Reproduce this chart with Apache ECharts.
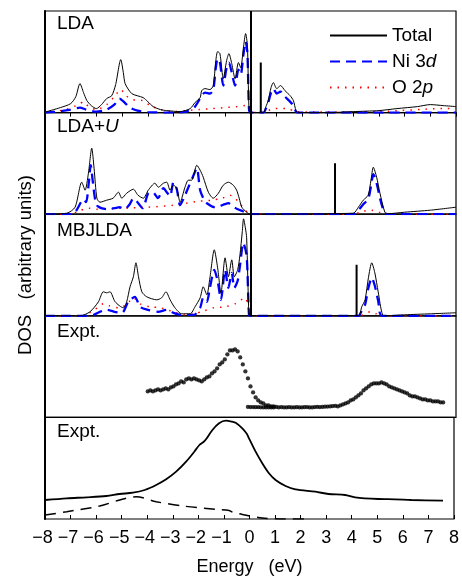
<!DOCTYPE html>
<html>
<head>
<meta charset="utf-8">
<script src="https://cdn.jsdelivr.net/npm/echarts@6/dist/echarts.min.js"></script>
<style>html,body{margin:0;padding:0;background:#fff;}#chart{width:462px;height:578px;}</style>
</head>
<body>
<div id="chart"></div>
<script>
// ---------- data (energy in eV, DOS in arbitrary units) ----------
const energyTicks = [-8,-7,-6,-5,-4,-3,-2,-1,0,1,2,3,4,5,6,7,8];
const panelNames = ['LDA', 'LDA+U', 'MBJLDA', 'Expt.', 'Expt.'];
const legendNames = ['Total', 'Ni 3d', 'O 2p'];

// Panel 1: LDA
const ldaTotal = [[-8,0.5],[-7.4,5],[-7.0,9],[-6.8,16],[-6.64,29],[-6.5,20],[-6.37,12],[-6.2,7],[-6.0,4],[-5.8,8],[-5.6,14],[-5.4,17],[-5.25,28],[-5.05,53],[-4.95,40],[-4.88,29],[-4.62,19],[-4.18,15],[-4.0,11],[-3.79,6],[-3.5,3],[-3.26,2],[-2.74,1],[-2.35,4],[-2.16,10],[-1.96,15],[-1.9,22],[-1.77,24],[-1.58,23],[-1.45,27],[-1.35,52],[-1.28,61],[-1.19,59],[-1.06,34],[-0.93,52],[-0.84,59],[-0.73,49],[-0.6,34],[-0.47,50],[-0.38,45],[-0.28,64],[-0.19,79],[-0.12,67],[-0.06,5],[0,0],[0.5,0],[0.6,6],[0.69,12],[0.8,25],[0.89,30],[1.02,24],[1.17,27],[1.34,22],[1.54,17],[1.67,12],[1.77,2],[1.85,0],[3,0],[4,1],[5,2],[5.7,4],[6.5,6],[7.0,8],[7.5,7],[8,6]];
const ldaNi3d = [[-8,0],[-7.5,1],[-7,3],[-6.64,5],[-6.4,3],[-6.0,1],[-5.6,3],[-5.3,8],[-5.1,14],[-4.9,10],[-4.7,5],[-4.4,2],[-4,0.5],[-3,0],[-2.5,1],[-2.16,6],[-1.9,17],[-1.77,20],[-1.58,19],[-1.45,23],[-1.35,45],[-1.28,54],[-1.19,50],[-1.06,27],[-0.93,45],[-0.84,50],[-0.73,40],[-0.6,27],[-0.47,43],[-0.38,38],[-0.28,57],[-0.19,71],[-0.12,59],[-0.06,4],[0,0],[0.5,0],[0.6,4],[0.69,10],[0.8,20],[0.89,24],[1.02,19],[1.17,21],[1.34,16],[1.54,11],[1.67,7],[1.77,1],[1.85,0],[8,0]];
const ldaO2p = [[-8,0],[-7.2,3],[-6.7,8],[-6.5,11],[-6.3,6],[-6.0,3],[-5.6,8],[-5.3,16],[-5.05,23],[-4.85,17],[-4.6,13],[-4.2,12],[-3.9,7],[-3.5,3],[-3,1],[-2.5,2],[-2,3],[-1.5,4],[-1,5],[-0.5,6],[-0.2,7],[-0.05,4],[0,0],[0.5,0],[0.9,4],[1.4,4],[1.8,1],[2.5,0.5],[5,1],[7.5,4],[8,4]];
const ldaSpike = [0.4, 50];

// Panel 2: LDA+U
const ldauTotal = [[-8,0],[-7.15,1],[-6.83,7],[-6.57,32],[-6.44,24],[-6.31,41],[-6.18,66],[-6.09,46],[-5.98,16],[-5.86,12],[-5.6,14],[-5.35,16],[-5.14,22],[-5.01,16],[-4.82,21],[-4.56,25],[-4.38,19],[-4.17,16],[-3.98,24],[-3.72,31],[-3.59,27],[-3.39,31],[-3.26,32],[-3.13,24],[-3.0,29],[-2.87,26],[-2.74,12],[-2.55,27],[-2.42,34],[-2.29,34],[-2.09,49],[-1.96,44],[-1.84,37],[-1.64,22],[-1.45,16],[-1.25,21],[-1.06,29],[-0.86,32],[-0.67,29],[-0.54,24],[-0.44,16],[-0.34,7],[-0.15,2],[0,0],[4.0,1],[4.2,7],[4.39,14],[4.58,19],[4.69,34],[4.78,47],[4.91,37],[5.04,21],[5.23,2],[5.35,0.5],[6,2],[7,4],[8,7]];
const ldauNi3d = [[-8,0],[-7,0],[-6.8,3],[-6.6,12],[-6.5,15],[-6.4,12],[-6.3,30],[-6.22,49],[-6.15,35],[-6.05,15],[-5.95,8],[-5.6,5],[-5.3,6],[-5.1,7],[-4.9,5],[-4.7,10],[-4.56,16],[-4.4,12],[-4.2,6],[-3.98,21],[-3.8,22],[-3.6,16],[-3.39,26],[-3.26,22],[-3.13,18],[-3.0,32],[-2.87,25],[-2.74,9],[-2.6,16],[-2.4,28],[-2.25,37],[-2.09,46],[-1.96,24],[-1.8,14],[-1.7,11],[-1.4,7],[-1.2,8],[-1.0,10],[-0.86,11],[-0.7,8],[-0.5,5],[-0.3,3],[-0.1,1],[0,0],[4.0,0],[4.2,4],[4.39,10],[4.58,15],[4.69,28],[4.78,40],[4.91,31],[5.04,16],[5.2,2],[5.3,0],[8,0]];
const ldauO2p = [[-8,0],[-7,0],[-6.7,3],[-6.3,6],[-6,5],[-5,6],[-4,7],[-3,9],[-2.5,11],[-2,13],[-1.5,14],[-1.1,16],[-0.8,19],[-0.6,16],[-0.4,10],[-0.2,4],[0,0],[4,0],[4.4,3],[4.7,4],[5.0,2],[5.3,0],[8,0]];
const ldauSpike = [3.29, 51];

// Panel 3: MBJLDA
const mbjTotal = [[-8,0],[-6.63,0],[-6.25,4],[-5.92,14],[-5.73,24],[-5.6,23],[-5.47,24],[-5.27,14],[-4.95,8],[-4.82,14],[-4.69,29],[-4.56,39],[-4.46,53],[-4.36,39],[-4.23,24],[-4.04,19],[-3.65,16],[-3.46,18],[-3.29,24],[-3.13,16],[-2.94,8],[-2.68,2],[-2.35,2],[-2.16,9],[-1.96,18],[-1.84,29],[-1.7,21],[-1.58,38],[-1.41,66],[-1.28,48],[-1.15,23],[-0.99,58],[-0.86,39],[-0.73,56],[-0.63,39],[-0.5,46],[-0.41,61],[-0.32,84],[-0.27,97],[-0.2,88],[-0.15,78],[-0.06,1],[0,0],[4.2,0],[4.33,9],[4.46,16],[4.59,38],[4.72,53],[4.84,43],[4.97,24],[5.14,1],[5.3,0],[6,1],[7,2],[8,3]];
const mbjNi3d = [[-8,0],[-6.5,0],[-6.1,1],[-5.86,4],[-5.6,6],[-5.3,4],[-5.0,3],[-4.76,14],[-4.5,19],[-4.3,9],[-4.0,6],[-3.6,4],[-3.26,6],[-3.0,3],[-2.7,1],[-2.2,1],[-1.96,8],[-1.84,18],[-1.7,14],[-1.58,28],[-1.41,46],[-1.28,35],[-1.15,16],[-0.99,46],[-0.86,28],[-0.73,43],[-0.63,28],[-0.5,35],[-0.41,50],[-0.28,73],[-0.15,60],[-0.06,1],[0,0],[4.2,0],[4.33,5],[4.46,11],[4.59,28],[4.72,38],[4.84,30],[4.97,15],[5.12,0],[8,0]];
const mbjO2p = [[-8,0],[-6.5,0],[-6.2,4],[-5.9,9],[-5.73,12],[-5.5,10],[-5.1,8],[-4.8,12],[-4.56,18],[-4.3,12],[-3.9,9],[-3.5,8],[-3.0,4],[-2.6,1],[-2.2,2],[-1.8,5],[-1.45,8],[-1.0,9],[-0.6,12],[-0.21,18],[-0.1,10],[0,0],[4.2,0],[4.5,2],[4.65,4],[4.9,2],[5.2,0],[8,0]];
const mbjSpike = [4.13, 51];

// Panel 4: experiment (photoemission + inverse photoemission), dots
const exptPes = [[-4.0,26],[-3.9,27],[-3.8,26],[-3.7,27],[-3.6,28],[-3.5,27],[-3.4,28],[-3.3,29],[-3.2,28],[-3.1,30],[-3.0,31],[-2.9,33],[-2.8,34],[-2.7,36],[-2.6,35],[-2.5,38],[-2.4,39],[-2.3,38],[-2.2,39],[-2.1,38],[-2.0,37],[-1.9,36],[-1.8,38],[-1.7,40],[-1.6,41],[-1.5,44],[-1.4,46],[-1.3,49],[-1.2,53],[-1.1,55],[-1.0,58],[-0.9,63],[-0.8,67],[-0.7,67],[-0.6,68],[-0.5,66],[-0.4,60],[-0.3,53],[-0.2,46],[-0.1,39],[0.0,31],[0.1,25],[0.2,20],[0.3,17],[0.4,15],[0.5,14],[0.6,12],[0.7,12],[0.8,11],[0.9,11],[1.0,10.5],[1.1,10],[1.2,10.3],[1.3,10],[1.4,10],[1.5,10.2],[1.6,10],[1.7,10],[1.8,10.2],[1.9,10],[2.0,10],[2.1,10.2],[2.2,10.3],[2.3,10],[2.4,10],[2.5,10.3],[2.6,10.5],[2.7,10.3],[2.8,10.5],[2.9,10.7],[3.0,10.8],[3.1,11],[3.2,11.3],[3.3,11.6],[3.4,11],[3.5,12],[3.6,13],[3.7,14],[3.8,15],[3.9,17],[4.0,18],[4.1,20],[4.2,22],[4.3,24],[4.4,27],[4.5,29],[4.6,31],[4.7,33],[4.8,34],[4.9,34],[5.0,34],[5.1,35],[5.2,34],[5.3,33],[5.4,31],[5.5,30],[5.6,29],[5.7,28],[5.8,27],[5.9,26],[6.0,25],[6.1,24],[6.2,22],[6.3,21],[6.4,21],[6.5,20],[6.6,19],[6.7,18],[6.8,18],[6.9,17],[7.0,17],[7.1,16],[7.2,16],[7.3,16],[7.4,15],[7.5,15]];
const exptIpesBase = [[-0.1,10.5],[0.0,10.3],[0.1,10.3],[0.2,10.2],[0.3,10.2],[0.4,10.1],[0.5,10],[0.6,10],[0.7,10],[0.8,10],[0.9,10]];

// Panel 5: experiment spectrum (solid) and component (dashed)
const exptSpectrum = [[-8,19],[-7.15,20.7],[-6.37,21.7],[-5.6,23],[-5.08,25],[-4.56,26.3],[-4.1,29],[-3.65,34],[-3.26,39.7],[-2.87,47.3],[-2.48,57.3],[-2.16,67.3],[-1.96,74],[-1.8,77],[-1.7,79.7],[-1.45,89],[-1.19,95.7],[-0.93,98.3],[-0.67,97.3],[-0.54,96.3],[-0.28,90.7],[-0.1,85],[-0.02,80.7],[0.24,67.3],[0.5,55.7],[0.76,45.7],[1.02,39],[1.41,33],[1.8,29.7],[2.58,27.3],[3.09,25],[3.74,24],[4.13,21.7],[5.04,20],[5.69,19.7],[6.33,19],[7.57,18.3]];
const exptComponent = [[-8,4],[-7.15,7.3],[-5.86,13],[-5.08,19],[-4.43,22.3],[-3.65,17.3],[-2.61,13],[-1.32,9.7],[-0.8,8.5],[-0.67,7],[-0.28,4.5],[0.5,1],[1.4,0],[2.2,0]];

// ---------- chart ----------
const FONT = 'Liberation Sans, Arial, Helvetica, sans-serif';
const N = 5, TOP = 11, H = 101.6, YMAX = 101.6;
const BLUE = '#0000ff', RED = '#ff0000';

const grids = [], xAxes = [], yAxes = [], titles = [];
for (let i = 0; i < N; i++) {
  grids.push({left: 45, right: 6, top: TOP + H * i, height: H, show: true,
    borderColor: '#000', borderWidth: 1.2, backgroundColor: 'transparent'});
  const isTop = i === 0, isBottom = i === N - 1;
  xAxes.push({
    gridIndex: i, type: 'value',
    min: energyTicks[0], max: energyTicks[energyTicks.length - 1], interval: 1,
    position: isTop ? 'top' : 'bottom',
    show: isTop || isBottom,
    axisLine: {show: false},
    axisTick: {show: true, inside: true, length: 4, lineStyle: {color: '#000', width: 1}},
    splitLine: {show: false},
    axisLabel: {
      show: isBottom, showMinLabel: true, showMaxLabel: true,
      margin: 10, color: '#000', fontSize: 18, fontFamily: FONT,
      formatter: v => v < 0 ? '{t|\u2212' + (-v) + '}{p|}' : '{t|' + v + '}',
      rich: {t: {fontSize: 18, fontFamily: FONT, color: '#000'}, p: {width: 5, fontSize: 18}}
    },
    name: isBottom ? 'Energy   (eV)' : '',
    nameLocation: 'middle', nameGap: 39,
    nameTextStyle: {fontSize: 18, fontFamily: FONT, color: '#000'}
  });
  yAxes.push({gridIndex: i, type: 'value', min: 0, max: YMAX,
    axisLine: {show: true, onZero: false, lineStyle: {color: '#000', width: 2}},
    axisTick: {show: false}, axisLabel: {show: false}, splitLine: {show: false}});
}
const titleTops = [14, 117, 221, 322, 422];
panelNames.forEach((n, i) => {
  titles.push({
    text: n === 'LDA+U' ? '{a|LDA+}{b|U}' : n,
    left: 57, top: titleTops[i], padding: 0,
    textStyle: {fontSize: 19, fontWeight: 'normal', fontFamily: FONT, color: '#000',
      rich: {a: {fontSize: 19, fontFamily: FONT, color: '#000'},
             b: {fontSize: 19, fontFamily: FONT, color: '#000', fontStyle: 'italic'}}}
  });
});

const zeroLine = {silent: true, symbol: ['none', 'none'], label: {show: false},
  lineStyle: {color: '#000', width: 2, type: 'solid'}, emphasis: {disabled: true},
  data: [{xAxis: 0}]};

function lineSeries(name, data, idx, style, withZero) {
  const s = {name, type: 'line', data, xAxisIndex: idx, yAxisIndex: idx,
    symbol: 'none', showSymbol: false, smooth: 0.25, lineStyle: style,
    itemStyle: {color: style.color}, z: style.z || 2};
  if (withZero) s.markLine = zeroLine;
  return s;
}
const totStyle = {color: '#000', width: 1, type: 'solid', z: 3};
const niStyle = {color: BLUE, width: 2.3, type: [10, 6], z: 2};
const oStyle = {color: RED, width: 1.5, type: [1.5, 6], z: 1};
function spikeSeries(spike, idx) {
  return {name: 'gap state', type: 'line', xAxisIndex: idx, yAxisIndex: idx,
    data: [[spike[0], 0], [spike[0], spike[1]]], symbol: 'none',
    lineStyle: {color: '#000', width: 2}, z: 3};
}

const series = [
  lineSeries('O 2p', ldaO2p, 0, oStyle),
  lineSeries('Ni 3d', ldaNi3d, 0, niStyle),
  lineSeries('Total', ldaTotal, 0, totStyle, true),
  spikeSeries(ldaSpike, 0),
  lineSeries('O 2p', ldauO2p, 1, oStyle),
  lineSeries('Ni 3d', ldauNi3d, 1, niStyle),
  lineSeries('Total', ldauTotal, 1, totStyle, true),
  spikeSeries(ldauSpike, 1),
  lineSeries('O 2p', mbjO2p, 2, oStyle),
  lineSeries('Ni 3d', mbjNi3d, 2, niStyle),
  lineSeries('Total', mbjTotal, 2, totStyle, true),
  spikeSeries(mbjSpike, 2),
  {name: 'Expt. PES/BIS', type: 'scatter', data: exptPes, xAxisIndex: 3, yAxisIndex: 3,
    symbol: 'circle', symbolSize: 4.3, itemStyle: {color: '#000'}},
  {name: 'Expt. base', type: 'scatter', data: exptIpesBase, xAxisIndex: 3, yAxisIndex: 3,
    symbol: 'circle', symbolSize: 4.3, itemStyle: {color: '#000'}},
  {name: 'Expt. spectrum', type: 'line', data: exptSpectrum, xAxisIndex: 4, yAxisIndex: 4,
    symbol: 'none', smooth: 0.3, lineStyle: {color: '#000', width: 1.8}},
  {name: 'Expt. component', type: 'line', data: exptComponent, xAxisIndex: 4, yAxisIndex: 4,
    symbol: 'none', smooth: 0.3, lineStyle: {color: '#000', width: 1.5, type: [11, 7]}}
];

const chart = echarts.init(document.getElementById('chart'), null, {renderer: 'canvas'});
chart.setOption({
  animation: false,
  backgroundColor: '#fff',
  grid: grids, xAxis: xAxes, yAxis: yAxes, title: titles,
  legend: {
    data: legendNames, orient: 'vertical', left: 329, top: 25, padding: 0,
    itemWidth: 57, itemHeight: 14, itemGap: 5, selectedMode: false,
    itemStyle: {opacity: 0},
    formatter: n => n === 'Ni 3d' ? '{r|Ni 3}{i|d}' : n === 'O 2p' ? '{r|O 2}{i|p}' : '{r|' + n + '}',
    textStyle: {fontSize: 19, fontFamily: FONT, color: '#000', lineHeight: 21,
      rich: {r: {fontSize: 19, fontFamily: FONT, color: '#000', lineHeight: 21},
             i: {fontSize: 19, fontFamily: FONT, color: '#000', fontStyle: 'italic', lineHeight: 21}}}
  },
  graphic: [{
    type: 'text', x: 26, y: 265, rotation: Math.PI / 2,
    style: {text: 'DOS   (arbitrary units)', font: '18.5px ' + FONT, fill: '#000',
      textAlign: 'center', textVerticalAlign: 'middle'}
  }],
  series
});
</script>
</body>
</html>
